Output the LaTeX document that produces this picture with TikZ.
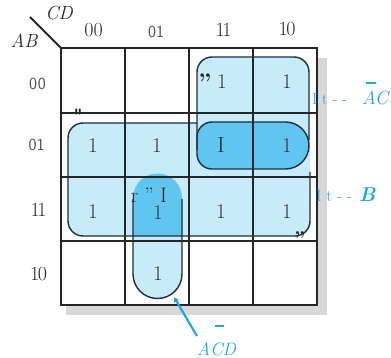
\documentclass[tikz,border=0pt]{standalone}
\usetikzlibrary{arrows.meta}
\newcommand\myfs[1]{\fontsize{#1}{#1}\selectfont}
\definecolor{lightb}{RGB}{200,235,250}
\definecolor{darkb}{RGB}{96,198,240}
\definecolor{edgec}{RGB}{28,46,60}
\definecolor{gridc}{RGB}{38,38,38}
\definecolor{cyanl}{RGB}{30,168,222}
\definecolor{shadowc}{RGB}{216,216,216}
\definecolor{labgray}{RGB}{85,85,85}
\begin{document}
\begin{tikzpicture}[x=1pt,y=-1pt,
  gridline/.style={draw=gridc, line width=2pt},
  groupfill/.style={fill=lightb},
  overlapfill/.style={fill=darkb},
  groupedge/.style={draw=edgec, line width=1.4pt},
  txt/.style={inner sep=0pt, outer sep=0pt},
  one/.style={txt, font=\myfs{21}, text=black!80},
  hdr/.style={txt, font=\myfs{20}, text=black!85},
  hdrs/.style={txt, font=\sffamily\myfs{17}, text=labgray},
  axis/.style={txt, font=\itshape\myfs{19}, text=black!85},
  lbl/.style={txt, text=cyanl},
  leader/.style={draw=cyanl, line width=2.2pt, -{Triangle[length=5pt,width=5pt]}}
]
\useasboundingbox (0,0) rectangle (391,358);

% shadow
\fill[shadowc] (317,58) rectangle (327,315);
\fill[shadowc] (66,305) rectangle (327,315);

% light fills
\path[groupfill, rounded corners=15pt] (68,123) rectangle (310,236);
\path[groupfill, rounded corners=15pt] (197,57) rectangle (309,169);
\path[groupfill, rounded corners=24.5pt] (133,173.5) rectangle (182,298.5);

% overlap fills
\path[overlapfill] (197,137) arc[start angle=180,end angle=270,radius=15]
   -- (285.5,122) arc[start angle=-90,end angle=90,radius=23.5]
   -- (212,169) arc[start angle=90,end angle=180,radius=15] -- cycle;
\begin{scope}
  \clip[rounded corners=15pt] (68,123) rectangle (310,236);
  \path[overlapfill, rounded corners=24.5pt] (133,173.5) rectangle (182,298.5);
\end{scope}

% grid
\draw[gridline] (61,48) rectangle (317,305);
\draw[gridline] (125,48) -- (125,305) (189,48) -- (189,305) (253,48) -- (253,305);
\draw[gridline] (61,113) -- (317,113) (61,177) -- (317,177) (61,241) -- (317,241);
\coordinate (corner) at (61,48);
\coordinate (diagend) at (30,17);
\draw[gridline] (diagend) -- (corner);

% outlines
\draw[groupedge] (197,123) -- (83,123) arc[start angle=270,end angle=180,radius=15]
   -- (68,221) arc[start angle=180,end angle=90,radius=15]
   -- (295,236) arc[start angle=90,end angle=0,radius=15] -- (310,172);
\draw[groupedge] (197,150) -- (197,72) arc[start angle=180,end angle=270,radius=15]
   -- (294,57) arc[start angle=270,end angle=360,radius=15] -- (309,140);
\draw[groupedge] (197,137) arc[start angle=180,end angle=270,radius=15]
   -- (285.5,122) arc[start angle=-90,end angle=90,radius=23.5]
   -- (212,169) arc[start angle=90,end angle=180,radius=15] -- cycle;
\begin{scope}
  \clip (120,200) rectangle (200,310);
  \draw[groupedge, rounded corners=24.5pt] (133,173.5) rectangle (182,298.5);
\end{scope}

% axis labels
\node[axis] (cd) at (59,13) {CD};
\node[axis] (ab) at (24,41) {AB};
\node[hdr] (c00) at (93.5,30) {00};
\node[hdrs] (c01) at (156,32) {01};
\node[hdr] (c11) at (223.5,29.5) {1\kern-2.5pt1};
\node[hdr] (c10) at (287,29.5) {1\kern-1.5pt0};
\node[hdrs] (r00) at (37.5,83.5) {0\kern1pt0};
\node[hdrs] (r01) at (36.5,145) {01};
\node[hdr] (r11) at (38.5,210) {1\kern-2.5pt1};
\node[hdr] (r10) at (38.5,274.5) {1\kern-1.5pt0};

% cell entries
\node[one] (e0011) at (222,82) {1};
\node[one] (e0010) at (287,82) {1};
\node[one] (e0100) at (93,146) {1};
\node[one] (e0101) at (157,146) {1};
\node[txt, font=\myfs{22}, text=black!85] (e0111) at (221,145) {I};
\node[one] (e0110) at (287,146) {1};
\node[one] (e1100) at (93,212) {1};
\node[one] (e1101) at (158,213) {1};
\node[one] (e1111) at (221,212) {1};
\node[one] (e1110) at (287,212) {1};
\node[one] (e1001) at (158,274) {1};
\node[txt, font=\myfs{21}, text=black!85] (art1) at (149,195) {r " I};
\node[txt, font=\bfseries\myfs{24}, text=black!85] (art2) at (205,82) {”};
\node[txt, font=\ttfamily\bfseries\myfs{20}, text=black!85] (art3) at (78,115) {"};
\node[txt, font=\bfseries\myfs{20}, text=black!85] (art4) at (300,239) {”};

% group labels
\node[lbl, anchor=base west, font=\myfs{16}] (lt1) at (312,105) {I t - -};
\node[lbl, anchor=base west, font=\itshape\myfs{19}] (lac) at (362,105)
  {\rlap{\hspace*{3.5pt}\rule[21pt]{10pt}{1.8pt}}AC};
\node[lbl, anchor=base west, font=\myfs{16.5}] (lt2) at (316,202) {I t - -};
\node[lbl, anchor=base west, font=\bfseries\itshape\myfs{20}] (lb) at (359,202) {B};
\node[lbl, anchor=base west, font=\itshape\myfs{18}] (lacd) at (197,355)
  {A\rlap{\hspace*{4.5pt}\rule[28pt]{9pt}{2.4pt}}CD};
\coordinate (acdfoot) at (197,336);
\coordinate (acdtip) at (174,297);
\draw[leader] (acdfoot) -- (acdtip);
\end{tikzpicture}
\end{document}
